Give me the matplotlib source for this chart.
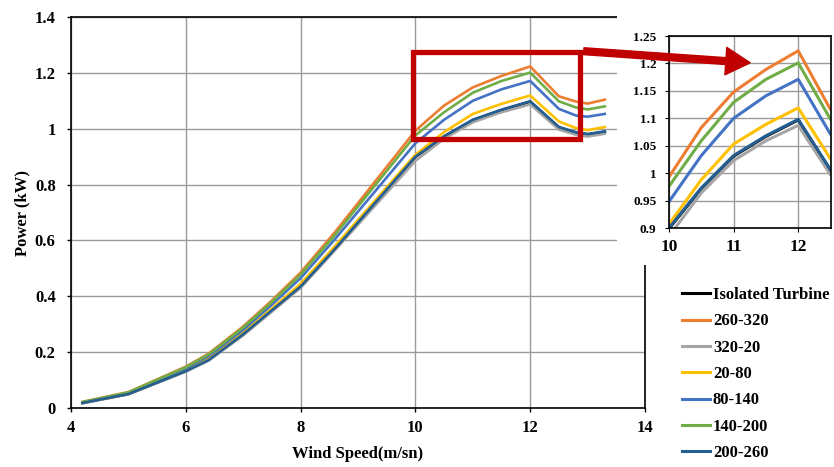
import matplotlib
matplotlib.use("Agg")
import matplotlib.pyplot as plt
from matplotlib.patches import Rectangle, FancyArrowPatch

plt.rcParams['font.family'] = ['Liberation Serif', 'DejaVu Serif']
plt.rcParams['font.weight'] = 'bold'

wind_speed = [4.2, 5.0, 6.0, 6.4, 7.0, 7.5, 8.0, 8.6, 10.0, 10.5, 11.0, 11.5, 12.0, 12.5, 12.8, 13.0, 13.3]

isolated = [0.018, 0.050, 0.132, 0.172, 0.264, 0.350, 0.435, 0.570, 0.899, 0.972, 1.031, 1.067, 1.097, 1.005, 0.986, 0.980, 0.989]
s260_320 = [0.022, 0.057, 0.148, 0.195, 0.292, 0.385, 0.485, 0.630, 0.993, 1.083, 1.148, 1.189, 1.223, 1.116, 1.097, 1.090, 1.104]
s320_20 = [0.017, 0.049, 0.130, 0.170, 0.260, 0.345, 0.430, 0.565, 0.885, 0.964, 1.023, 1.059, 1.087, 0.997, 0.978, 0.972, 0.982]
s20_80 = [0.019, 0.052, 0.136, 0.178, 0.270, 0.356, 0.445, 0.580, 0.907, 0.988, 1.053, 1.089, 1.119, 1.026, 1.002, 0.995, 1.006]
s80_140 = [0.020, 0.054, 0.142, 0.186, 0.280, 0.370, 0.465, 0.605, 0.948, 1.032, 1.100, 1.141, 1.171, 1.071, 1.047, 1.043, 1.053]
s140_200 = [0.021, 0.056, 0.146, 0.192, 0.288, 0.380, 0.478, 0.620, 0.976, 1.059, 1.129, 1.171, 1.201, 1.098, 1.076, 1.069, 1.080]
s200_260 = [0.018, 0.050, 0.132, 0.172, 0.264, 0.350, 0.435, 0.570, 0.900, 0.973, 1.032, 1.068, 1.098, 1.006, 0.987, 0.981, 0.990]

series_labels = ['Isolated Turbine', '260-320', '320-20', '20-80', '80-140', '140-200', '200-260']
series_values = [isolated, s260_320, s320_20, s20_80, s80_140, s140_200, s200_260]
series_colors = ['#000000', '#ED7D31', '#A5A5A5', '#FFC000', '#4472C4', '#70AD47', '#255E91']

main_xticks = [4, 6, 8, 10, 12, 14]
main_yticks = [0, 0.2, 0.4, 0.6, 0.8, 1.0, 1.2, 1.4]
main_ytick_labels = ['0', '0.2', '0.4', '0.6', '0.8', '1', '1.2', '1.4']
inset_xticks = [10, 11, 12]
inset_yticks = [0.9, 0.95, 1.0, 1.05, 1.1, 1.15, 1.2, 1.25]
inset_ytick_labels = ['0.9', '0.95', '1', '1.05', '1.1', '1.15', '1.2', '1.25']

fig = plt.figure(figsize=(8.34, 4.67), dpi=100)
ax = fig.add_axes([71/834, 1-408/467, (645-71)/834, (408-17)/467])

handles = []
for vals, lab, col in zip(series_values, series_labels, series_colors):
    h, = ax.plot(wind_speed, vals, color=col, lw=1.9, label=lab, solid_joinstyle='round')
    handles.append(h)

ax.set_xlim(4, 14)
ax.set_ylim(0, 1.4)
ax.set_xticks(main_xticks)
ax.set_yticks(main_yticks)
ax.set_yticklabels(main_ytick_labels)
ax.tick_params(labelsize=12, length=3, width=1, direction='out')
ax.tick_params(axis='y', pad=8)
ax.tick_params(axis='x', pad=6)
for t in ax.get_xticklabels() + ax.get_yticklabels():
    t.set_fontweight('bold')
ax.grid(True, color='#9a9a9a', lw=1)
ax.set_axisbelow(True)
for s in ax.spines.values():
    s.set_color('#000000')
    s.set_linewidth(1.2)
ax.set_xlabel('Wind Speed(m/sn)', fontsize=12, fontweight='bold', labelpad=7)
ax.set_ylabel('Power (kW)', fontsize=12, fontweight='bold', labelpad=3)

# zoom box
ax.add_patch(Rectangle((9.963, 0.963), 12.876-9.963, 1.276-0.963, fill=False,
                       edgecolor='#C00000', lw=3.8, zorder=5))

# white background behind inset
fig.add_artist(Rectangle((617/834, 1-265/467), 1-617/834, 265/467, transform=fig.transFigure,
                         facecolor='white', edgecolor='none', zorder=1))

axi = fig.add_axes([669/834, 1-228/467, (830.5-669)/834, (228-36)/467])
axi.set_zorder(2)
for vals, col in zip(series_values, series_colors):
    axi.plot(wind_speed, vals, color=col, lw=2.2, solid_joinstyle='round')
axi.set_xlim(10, 12.5)
axi.set_ylim(0.9, 1.25)
axi.set_xticks(inset_xticks)
axi.set_yticks(inset_yticks)
axi.set_yticklabels(inset_ytick_labels)
axi.tick_params(axis='y', labelsize=9.5, length=3, pad=6)
axi.tick_params(axis='x', labelsize=12.5, length=3, pad=5)
for t in axi.get_xticklabels() + axi.get_yticklabels():
    t.set_fontweight('bold')
axi.grid(True, color='#9a9a9a', lw=1)
axi.set_axisbelow(True)
for s in axi.spines.values():
    s.set_color('#000000')
    s.set_linewidth(1.2)

arrow = FancyArrowPatch((581/834, 1-51/467), (753/834, 1-63/467), transform=fig.transFigure,
                        arrowstyle='simple,head_length=1.6,head_width=1.8,tail_width=0.45',
                        mutation_scale=11, color='#C00000', zorder=5)
fig.add_artist(arrow)

leg = fig.legend(handles=handles, loc='upper left', bbox_to_anchor=(682/834, 1-287/467),
                 frameon=False, fontsize=12, handlelength=1.7, handletextpad=0.15,
                 labelspacing=0.62, borderaxespad=0, borderpad=0)
for t in leg.get_texts():
    t.set_fontweight('bold')
for lh in leg.get_lines():
    lh.set_linewidth(2.2)

fig.savefig('out.png', dpi=100, facecolor='white')
